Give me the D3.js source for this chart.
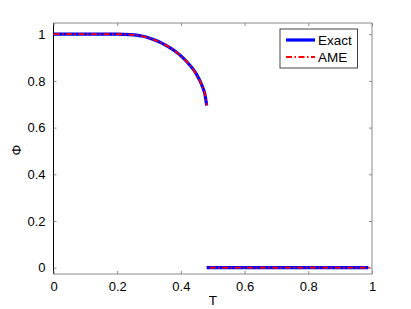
<!DOCTYPE html>
<html><head><meta charset="utf-8">
<script src="https://cdn.jsdelivr.net/npm/d3@7"></script>
<style>body{margin:0;background:#fff}svg{display:block;font-family:"Liberation Sans",Arial,sans-serif}</style>
</head><body><svg id="c" width="411" height="309"></svg>
<script>
const exactT = [0,0.05,0.1,0.15,0.2,0.22,0.24,0.26,0.28,0.30,0.32,0.34,0.36,0.38,0.40,0.42,0.44,0.45,0.46,0.47,0.475,0.481];
const exactPhi = [1,1,1,1,1,0.9997,0.9985,0.996,0.991,0.984,0.974,0.962,0.947,0.929,0.907,0.880,0.847,0.826,0.800,0.767,0.745,0.695];
const exactLowT = [0.481,0.988];
const exactLowPhi = [0,0];
const ameT = exactT;
const amePhi = exactPhi;
const ameLowT = [0.481,1.0];
const ameLowPhi = [0,0];
const xTicks = [0,0.2,0.4,0.6,0.8,1];
const yTicks = [0,0.2,0.4,0.6,0.8,1];
const xTickLabels = ["0","0.2","0.4","0.6","0.8","1"];
const yTickLabels = ["0","0.2","0.4","0.6","0.8","1"];
const legendLabels = ["Exact","AME"];

const svg = d3.select("#c");
const L=53.5, R=372, T=23, B=274;
const x = d3.scaleLinear().domain([0,1]).range([L,R]);
const y = d3.scaleLinear().domain([-0.027,1.048]).range([B,T]);

const frameCol="#8a8a8a";
svg.append("line").attr("x1",L).attr("x2",R).attr("y1",T).attr("y2",T).attr("stroke",frameCol);
svg.append("line").attr("x1",R).attr("x2",R).attr("y1",T).attr("y2",B).attr("stroke",frameCol);
svg.append("line").attr("x1",L).attr("x2",R).attr("y1",B).attr("y2",B).attr("stroke",frameCol);
svg.append("line").attr("x1",L).attr("x2",L).attr("y1",T).attr("y2",B).attr("stroke","#000");

const xb = d3.axisBottom(x).tickValues(xTicks).tickSize(-3).tickPadding(8).tickFormat((d,i)=>xTickLabels[i]);
const gx = svg.append("g").attr("transform",`translate(0,${B})`).call(xb);
const xt = d3.axisTop(x).tickValues(xTicks).tickSize(-3).tickFormat("");
const gxt = svg.append("g").attr("transform",`translate(0,${T})`).call(xt);
const yl = d3.axisLeft(y).tickValues(yTicks).tickSize(-3).tickPadding(8).tickFormat((d,i)=>yTickLabels[i]);
const gy = svg.append("g").attr("transform",`translate(${L},0)`).call(yl);
const yr = d3.axisRight(y).tickValues(yTicks).tickSize(-3).tickFormat("");
const gyr = svg.append("g").attr("transform",`translate(${R},0)`).call(yr);
[gx,gxt,gy,gyr].forEach(g=>{
  g.select(".domain").remove();
  g.selectAll(".tick line").attr("stroke",frameCol);
  g.selectAll("text").attr("font-size",13).attr("fill","#000").attr("font-family","Liberation Sans, Arial, sans-serif");
});

svg.append("text").attr("x",(L+R)/2).attr("y",305).attr("text-anchor","middle").attr("font-size",13.5).text("T");
svg.append("text").attr("transform","translate(21,150) rotate(-90)").attr("text-anchor","middle").attr("font-size",13.5).text("Φ");

const line = d3.line().x(d=>x(d[0])).y(d=>y(d[1])).curve(d3.curveMonotoneX);
const zip=(a,b)=>a.map((v,i)=>[v,b[i]]);
const blue="#0000ff", red="#ff0000", dash="6,2.5,1.5,2.5";
svg.append("path").attr("d",line(zip(exactT,exactPhi))).attr("fill","none").attr("stroke",blue).attr("stroke-width",3.2);
svg.append("path").attr("d",line(zip(exactLowT,exactLowPhi))).attr("fill","none").attr("stroke",blue).attr("stroke-width",3.2);
svg.append("path").attr("d",line(zip(ameT,amePhi))).attr("fill","none").attr("stroke",red).attr("stroke-width",1.8).attr("stroke-dasharray",dash);
svg.append("path").attr("d",line(zip(ameLowT,ameLowPhi))).attr("fill","none").attr("stroke",red).attr("stroke-width",1.8).attr("stroke-dasharray",dash).attr("stroke-dashoffset",-3);

const lg = svg.append("g");
lg.append("rect").attr("x",280).attr("y",29).attr("width",77.5).attr("height",39).attr("fill","#fff").attr("stroke","#444").attr("stroke-width",1);
lg.append("line").attr("x1",286).attr("x2",315).attr("y1",40).attr("y2",40).attr("stroke",blue).attr("stroke-width",3.2);
lg.append("line").attr("x1",286).attr("x2",315).attr("y1",57).attr("y2",57).attr("stroke",red).attr("stroke-width",1.8).attr("stroke-dasharray",dash);
legendLabels.forEach((t,i)=>{
  lg.append("text").attr("x",318).attr("y",40+i*17).attr("dy","0.36em").attr("font-size",13.5).text(t);
});
</script></body></html>
